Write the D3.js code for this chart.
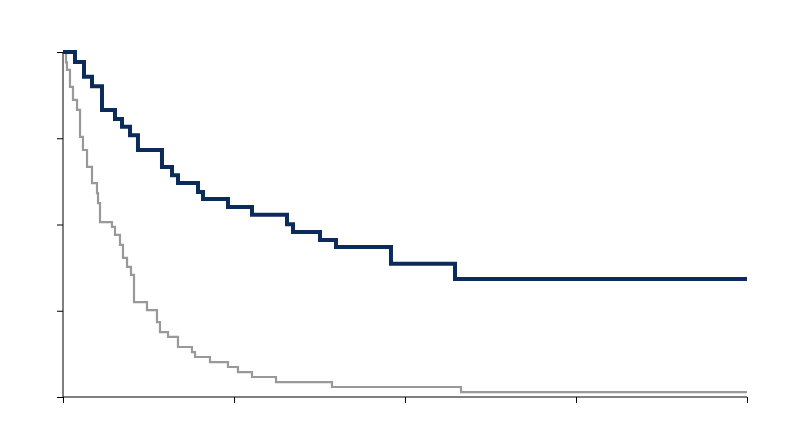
<!DOCTYPE html><html><head><meta charset="utf-8"><script src="https://cdn.jsdelivr.net/npm/d3@7"></script>
<style>body{margin:0;background:#fff}</style></head><body><svg id="c" width="800" height="447"></svg>
<script>
const navyT=[0,1.75,3.07,4.24,5.70,7.60,8.63,9.80,10.96,14.47,15.94,16.81,19.74,20.47,24.12,27.63,32.75,33.63,37.57,39.91,47.95,57.31,100];
const navyS=[1,0.971,0.928,0.901,0.832,0.806,0.783,0.759,0.716,0.667,0.643,0.620,0.594,0.574,0.551,0.528,0.501,0.478,0.455,0.435,0.386,0.342,0.342];
const greyT=[0,0.44,0.58,1.02,1.46,2.05,2.49,2.92,3.51,4.24,4.97,5.12,5.41,7.16,7.60,8.33,8.77,9.36,9.94,10.38,12.28,13.74,14.18,15.35,16.81,18.86,19.30,21.49,24.12,25.58,27.63,31.14,39.33,58.19,100];
const greyS=[1,0.97,0.948,0.899,0.861,0.832,0.754,0.716,0.667,0.620,0.591,0.562,0.507,0.493,0.470,0.441,0.403,0.377,0.354,0.275,0.252,0.217,0.188,0.174,0.145,0.130,0.116,0.101,0.087,0.072,0.058,0.043,0.029,0.014,0.014];
const xTicks=[0,25,50,75,100];
const yTicks=[0,0.25,0.5,0.75,1];
const svg=d3.select('#c');
const x=d3.scaleLinear().domain([0,100]).range([63,747]);
const y=d3.scaleLinear().domain([0,1]).range([397,52]);
const xa=svg.append('g').attr('transform','translate(0,397)').call(d3.axisBottom(x).tickValues(xTicks).tickSize(6).tickFormat(''));
const ya=svg.append('g').attr('transform','translate(63,0)').call(d3.axisLeft(y).tickValues(yTicks).tickSize(6).tickFormat(''));
svg.selectAll('.domain').attr('d',null);
xa.append('line').attr('x1',63).attr('x2',747).attr('stroke','#000');
ya.append('line').attr('y1',52).attr('y2',397).attr('stroke','#000');
svg.selectAll('.tick line').attr('stroke','#000');
const line=d3.line().x(d=>x(d[0])).y(d=>y(d[1])).curve(d3.curveStepAfter);
svg.append('path').attr('d',line(greyT.map((t,i)=>[t,greyS[i]]))).attr('fill','none').attr('stroke','#999').attr('stroke-width',2.2);
svg.append('path').attr('d',line(navyT.map((t,i)=>[t,navyS[i]]))).attr('fill','none').attr('stroke','#0b2b5a').attr('stroke-width',4);
</script></body></html>
